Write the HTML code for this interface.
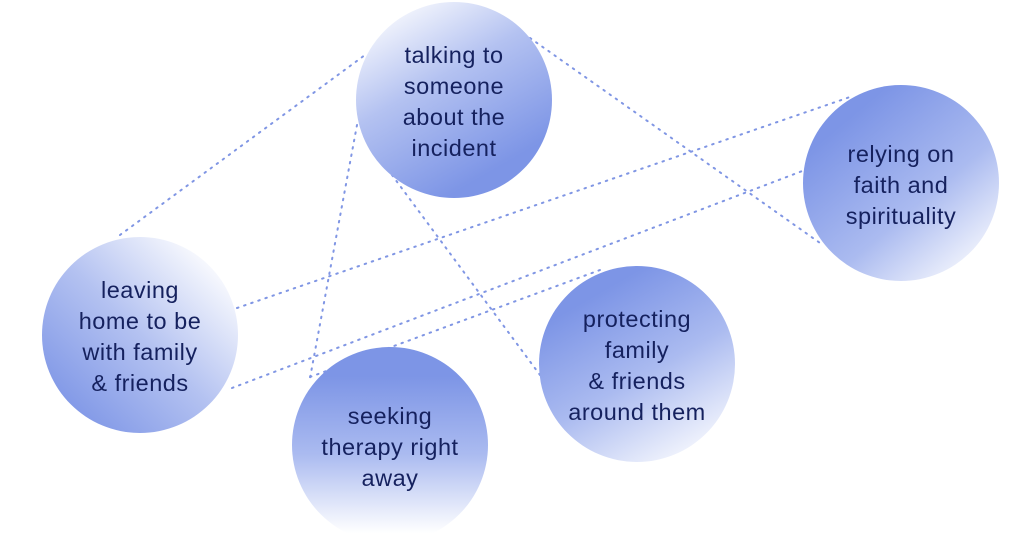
<!DOCTYPE html>
<html><head><style>
body{margin:0;width:1024px;height:545px;background:#fff;overflow:hidden;position:relative;font-family:"Liberation Sans",sans-serif}
svg{position:absolute;left:0;top:0}
.c{position:absolute;width:196px;height:196px;border-radius:50%;display:flex;align-items:center;justify-content:center;text-align:center;color:#15215e;font-size:23.5px;line-height:31px;letter-spacing:0.5px;white-space:nowrap}
.c span{position:relative;top:2px}
</style></head><body>
<svg width="1024" height="545">
<g stroke="#8096e4" stroke-width="2" stroke-dasharray="1.5 6" stroke-linecap="round" fill="none">
<line x1="120" y1="235" x2="365" y2="55"/>
<line x1="530" y1="38" x2="820" y2="243"/>
<line x1="237" y1="308" x2="850" y2="97"/>
<line x1="232" y1="388" x2="805" y2="170"/>
<line x1="392" y1="175" x2="540" y2="375"/>
<line x1="357" y1="125" x2="310" y2="378"/>
<line x1="310" y1="377" x2="600" y2="270"/>
</g>
</svg>
<div class="c" style="left:356px;top:2px;background:linear-gradient(150deg,#fff 5%,#b4c2f1 40%,#7d95e6 80%)"><span>talking to<br>someone<br>about the<br>incident</span></div>
<div class="c" style="left:803px;top:85px;background:linear-gradient(140deg,#7d95e6 20%,#abbbf0 60%,#fff 95%)"><span>relying on<br>faith and<br>spirituality</span></div>
<div class="c" style="left:42px;top:237px;background:linear-gradient(225deg,#fff 10%,#b4c2f1 50%,#7d95e6 90%)"><span>leaving<br>home to be<br>with family<br>&amp; friends</span></div>
<div class="c" style="left:292px;top:347px;background:linear-gradient(180deg,#7d95e6 15%,#abbbf0 55%,#fff 95%)"><span>seeking<br>therapy right<br>away</span></div>
<div class="c" style="left:539px;top:266px;background:linear-gradient(150deg,#7d95e6 20%,#abbbf0 55%,#fff 95%)"><span>protecting<br>family<br>&amp; friends<br>around them</span></div>
</body></html>
